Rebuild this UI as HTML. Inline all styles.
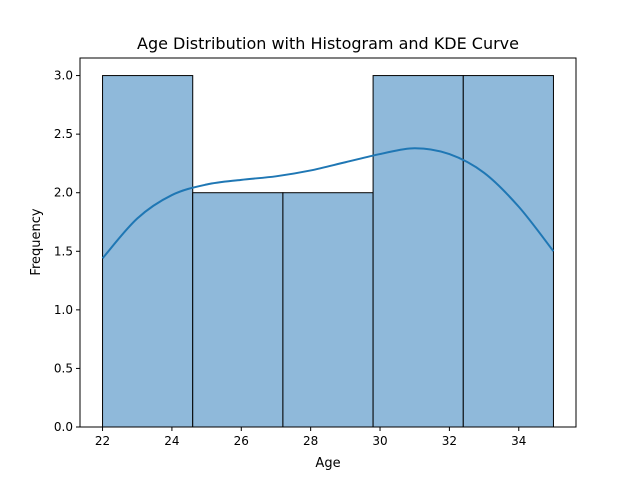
<!DOCTYPE html>
<html><head><meta charset="utf-8"><style>
body{margin:0;background:#fff;}
svg text{font-family:"DejaVu Sans","Liberation Sans",sans-serif;fill:#000;}
</style></head><body>
<svg id="chart" width="640" height="480" xmlns="http://www.w3.org/2000/svg">
<rect width="640" height="480" fill="#fff"/>
<text x="328" y="49" text-anchor="middle" font-size="16">Age Distribution with Histogram and KDE Curve</text>
<g id="bars"></g>
<path id="kde" fill="none" stroke="#1f77b4" stroke-width="2"/>
<g id="axes"></g>
<text x="328" y="467" text-anchor="middle" font-size="13">Age</text>
<text transform="translate(40,242) rotate(-90)" text-anchor="middle" font-size="13">Frequency</text>
</svg>
<script>
const binEdges=[22,24.6,27.2,29.8,32.4,35];
const counts=[3,2,2,3,3];
const kdeX=[22,23,24,25,26,27,28,29,30,31,32,33,34,35];
const kdeY=[1.44,1.78,1.98,2.07,2.11,2.14,2.19,2.26,2.33,2.38,2.33,2.17,1.88,1.50];
const xTicks=[22,24,26,28,30,32,34];
const yTicks=[0,0.5,1,1.5,2,2.5,3];
const L=80,R=576,T=58,B=427,xmin=21.35,xmax=35.65,ymin=0,ymax=3.15;
const sx=v=>L+(v-xmin)/(xmax-xmin)*(R-L);
const sy=v=>B-(v-ymin)/(ymax-ymin)*(B-T);
const NS="http://www.w3.org/2000/svg";
function mk(t,a,p){const e=document.createElementNS(NS,t);for(const k in a)e.setAttribute(k,a[k]);p.appendChild(e);return e;}
const bars=document.getElementById('bars');
counts.forEach((c,i)=>{
 const r=mk('rect',{x:sx(binEdges[i]),y:sy(c),width:sx(binEdges[i+1])-sx(binEdges[i]),height:sy(0)-sy(c),fill:'#8fb9da',stroke:'#000','stroke-width':1},bars);
 
 
});
const pts=kdeX.map((x,i)=>[sx(x),sy(kdeY[i])]);
let d='M'+pts[0][0]+','+pts[0][1];
for(let i=0;i<pts.length-1;i++){
 const p0=pts[Math.max(0,i-1)],p1=pts[i],p2=pts[i+1],p3=pts[Math.min(pts.length-1,i+2)];
 d+=` C${p1[0]+(p2[0]-p0[0])/6},${p1[1]+(p2[1]-p0[1])/6} ${p2[0]-(p3[0]-p1[0])/6},${p2[1]-(p3[1]-p1[1])/6} ${p2[0]},${p2[1]}`;
}
document.getElementById('kde').setAttribute('d',d);
const ax=document.getElementById('axes');
const fr=mk('rect',{x:L,y:T,width:R-L,height:B-T,fill:'none',stroke:'#000','stroke-width':1},ax);


xTicks.forEach(v=>{
 const x=sx(v);
 mk('line',{x1:x,y1:B,x2:x,y2:B+4,stroke:'#000'},ax);
 const t=mk('text',{x:x,y:B+18,'text-anchor':'middle','font-size':12},ax);
 t.textContent=v;
 
 
});
yTicks.forEach(v=>{
 const y=sy(v);
 mk('line',{x1:L-4,y1:y,x2:L,y2:y,stroke:'#000'},ax);
 const t=mk('text',{x:L-7,y:y+4,'text-anchor':'end','font-size':12},ax);
 t.textContent=v.toFixed(1);
 
 
});
</script>
</body></html>
